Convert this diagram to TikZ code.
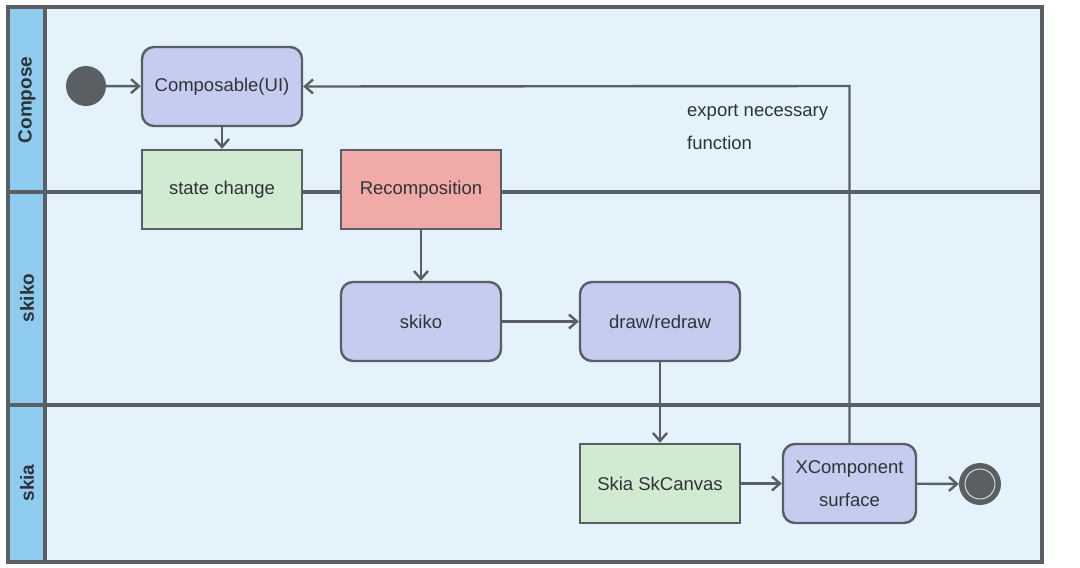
\documentclass[tikz,border=0pt]{standalone}
\usepackage{fontspec}
\setmainfont{Liberation Sans}
\usetikzlibrary{arrows.meta}
\definecolor{frame}{HTML}{5A5F63}
\definecolor{lanebg}{HTML}{E4F3FB}
\definecolor{headbg}{HTML}{8FCAEF}
\definecolor{lav}{HTML}{C6CCEF}
\definecolor{grn}{HTML}{D0EBD2}
\definecolor{red}{HTML}{F0AAA8}
\definecolor{txt}{HTML}{2E3336}
\tikzset{
  x=1pt,y=-1pt,
  box/.style={draw=frame,line width=2.4pt,minimum width=160pt,minimum height=79pt,inner sep=0pt,font=\fontsize{18.5}{22}\selectfont,text=txt},
  rbox/.style={box,rounded corners=12pt,fill=lav},
  gbox/.style={box,fill=grn},
  conn/.style={draw=frame,line width=2.4pt,-{Straight Barb[length=8pt,width=14pt,line width=2.4pt]}},
  lanelab/.style={rotate=90,font=\fontsize{19}{22}\selectfont\bfseries,text=txt},
  sep/.style={draw=frame,line width=3.2pt}
}
\begin{document}
\begin{tikzpicture}
\useasboundingbox (0,0) rectangle (1080,568);
\fill[white] (0,0) rectangle (1080,568);
% lanes
\fill[lanebg] (45,7) rectangle (1042,562);
\fill[headbg] (8,7) rectangle (45,562);
\draw[sep] (8,192) -- (1042,192);
\draw[sep] (8,405) -- (1042,405);
\draw[sep] (45,7) -- (45,562);
\draw[sep] (8,7) rectangle (1042,562);
\node[lanelab] (lc) at (27,100) {Compose};
\node[lanelab] (lk) at (27,298) {skiko};
\node[lanelab] (la) at (27,483) {skia};
% nodes
\node[circle,fill=frame,minimum size=40pt,inner sep=0pt] (start) at (86,86) {};
\node[rbox] (comp) at (222,86.5) {Composable(UI)};
\node[gbox] (state) at (222,189.5) {state change};
\node[box,fill=red] (recomp) at (421,189.5) {Recomposition};
\node[rbox] (skiko) at (421,321.5) {skiko};
\node[rbox] (draw) at (660,321.5) {draw/redraw};
\node[gbox] (canvas) at (660,483.5) {Skia SkCanvas};
\node[rbox,minimum width=133pt,align=center,font=\fontsize{18.5}{33}\selectfont] (xcomp) at (849.5,483.5) {XComponent\\surface};
\node[circle,fill=frame,minimum size=42pt,inner sep=0pt] (end) at (980,484) {};
\draw[white!85!frame,line width=0.9pt] (end.center) circle (15pt);
\coordinate (turn) at (849.5,86);
% connectors
\draw[conn] (start) -- (comp);
\draw[conn] (comp) -- (state);
\draw[conn] (recomp) -- (skiko);
\draw[conn] (skiko) -- (draw);
\draw[conn] (draw) -- (canvas);
\draw[conn] (canvas) -- (xcomp);
\draw[conn] (xcomp) -- (end);
\draw[conn] (xcomp.north) -- (turn) -- (comp.east);
\node[anchor=north west,align=left,font=\fontsize{18.5}{33}\selectfont,text=txt,inner sep=0pt] (lbl) at (687,104) {export necessary\\function};
\end{tikzpicture}
\end{document}
